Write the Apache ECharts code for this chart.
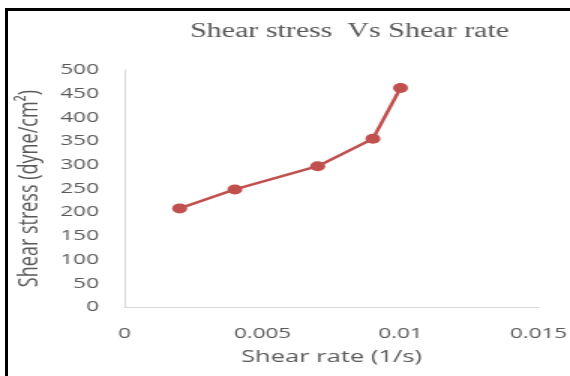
<!DOCTYPE html>
<html>
<head>
<meta charset="utf-8">
<script src="https://cdn.jsdelivr.net/npm/echarts@6/dist/echarts.min.js"></script>
<style>
	html, body { margin: 0; padding: 0; background: #fff; overflow: hidden; }
	#frame {
		position: absolute; left: 5px; top: 8px; width: 565px; height: 368px;
		border-left: 3px solid #000; border-top: 3px solid #000; box-sizing: border-box;
	}
	/* the reference is stretched sideways, so draw narrow and widen it */
	#chart {
		position: absolute; left: 0; top: 0; width: 380px; height: 376px;
		transform: scaleX(1.5); transform-origin: 0 0;
	}
</style>
</head>
<body>
<div id="frame"></div>
<div id="chart"></div>
<script>
const shearRate = [0.002, 0.004, 0.007, 0.009, 0.010]
const shearStress = [208, 248, 297, 355, 462]

const textColor = '#595959'
const font = 'Open Sans'

const chart = echarts.init(document.getElementById('chart'))

const option = {
	animation: false,
	title: {
		text: 'Shear stress  Vs Shear rate',
		left: 228,
		textAlign: 'center',
		top: 17,
		textStyle: {
			fontFamily: 'Liberation Serif',
			fontWeight: 'normal',
			fontSize: 20,
			color: textColor,
		},
	},
	grid: { left: 83, right: 21, top: 70, bottom: 69, outerBoundsMode: 'none' },
	xAxis: {
		type: 'value',
		min: 0,
		max: 0.015,
		interval: 0.005,
		name: 'Shear rate (1/s)',
		nameLocation: 'middle',
		nameGap: 42,
		nameTextStyle: { fontFamily: font, fontSize: 17, color: textColor },
		axisLine: { show: true, lineStyle: { color: '#d9d9d9', width: 1 } },
		axisTick: { show: false },
		splitLine: { show: false },
		axisLabel: { fontFamily: font, fontSize: 15, color: textColor, margin: 19 },
	},
	yAxis: {
		type: 'value',
		min: 0,
		max: 500,
		interval: 50,
		name: 'Shear stress (dyne/cm²)',
		nameLocation: 'middle',
		nameGap: 53,
		nameTextStyle: { fontFamily: font, fontSize: 18, color: textColor },
		axisLine: { show: true, lineStyle: { color: '#d9d9d9', width: 1 } },
		axisTick: { show: false },
		splitLine: { show: false },
		axisLabel: { fontFamily: font, fontSize: 15, color: textColor, margin: 17 },
	},
	series: [
		{
			type: 'line',
			data: shearRate.map((x, i) => [x, shearStress[i]]),
			symbol: 'circle',
			symbolSize: 10,
			lineStyle: { color: '#c0504d', width: 2.5 },
			itemStyle: { color: '#c0504d' },
		},
	],
}

chart.setOption(option)
</script>
</body>
</html>
